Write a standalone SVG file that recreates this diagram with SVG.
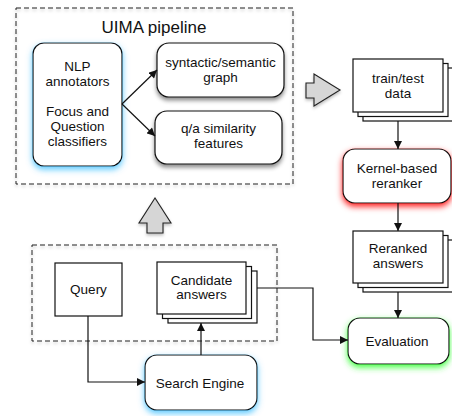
<svg xmlns="http://www.w3.org/2000/svg" width="452" height="416" viewBox="0 0 452 416">
<defs>
<style>
text{font-family:"Liberation Sans",Arial,sans-serif;font-size:13.5px;fill:#111;text-anchor:middle}
.box{fill:#fff;stroke:#111;stroke-width:1.2}
.dash{fill:none;stroke:#222;stroke-width:1;stroke-dasharray:5,3}
.conn{fill:none;stroke:#111;stroke-width:1.2}
.fat{fill:#d6d6d6;stroke:#222;stroke-width:1.1;stroke-linejoin:miter}
</style>
<filter id="sh" x="-20%" y="-20%" width="140%" height="150%"><feDropShadow dx="0" dy="3" stdDeviation="2" flood-color="#000" flood-opacity="0.45"/></filter>
<filter id="shl" x="-20%" y="-20%" width="140%" height="150%"><feDropShadow dx="0" dy="2" stdDeviation="1.5" flood-color="#000" flood-opacity="0.25"/></filter>
<filter id="gb" x="-20%" y="-20%" width="140%" height="150%"><feDropShadow dx="0" dy="3" stdDeviation="3" flood-color="#4cc4ff" flood-opacity="0.9"/></filter>
<filter id="gr" x="-20%" y="-20%" width="140%" height="150%"><feDropShadow dx="0" dy="3" stdDeviation="3" flood-color="#ff0000" flood-opacity="0.9"/></filter>
<filter id="gg" x="-20%" y="-20%" width="140%" height="150%"><feDropShadow dx="0" dy="3" stdDeviation="3" flood-color="#33ff33" flood-opacity="0.9"/></filter>
<marker id="ah" viewBox="0 0 10 10" refX="10" refY="5" markerWidth="9" markerHeight="8" markerUnits="userSpaceOnUse" orient="auto"><path d="M0,0 L10,5 L0,10 z" fill="#111"/></marker>
</defs>
<rect width="452" height="416" fill="#fff"/>

<g id="uima-pipeline">
<rect class="dash" x="16" y="8" width="277" height="176" filter="url(#shl)"/>
<text x="154" y="32.5" style="font-size:17px">UIMA pipeline</text>
</g>

<g id="nlp-annotators">
<rect class="box" x="33" y="43" width="89" height="123" rx="11" filter="url(#gb)"/>
<text x="77.5" y="71">NLP</text>
<text x="77.5" y="86">annotators</text>
<text x="77.5" y="115.5">Focus and</text>
<text x="77.5" y="130.5">Question</text>
<text x="77.5" y="145.5">classifiers</text>
</g>

<g id="syntactic-graph">
<rect class="box" x="157" y="43" width="127" height="54" rx="12" filter="url(#sh)"/>
<text x="220.5" y="66.5">syntactic/semantic</text>
<text x="220.5" y="81.5">graph</text>
</g>

<g id="qa-similarity">
<rect class="box" x="155" y="111" width="127" height="53" rx="12" filter="url(#sh)"/>
<text x="218.5" y="133">q/a similarity</text>
<text x="218.5" y="148">features</text>
</g>

<g id="fat-arrow-right">
<path class="fat" d="M306,83 L314,83 L314,74 L340,90 L314,106 L314,98 L306,98 Z" filter="url(#shl)"/>
</g>

<g id="train-test-data">
<rect class="box" x="363" y="68" width="90" height="53"/>
<rect class="box" x="358" y="63.5" width="90" height="53"/>
<rect class="box" x="353" y="59" width="90" height="53"/>
<text x="398" y="83">train/test</text>
<text x="398" y="98">data</text>
</g>

<g id="kernel-reranker">
<rect class="box" x="343" y="149" width="108" height="54" rx="12" filter="url(#gr)"/>
<text x="397" y="173">Kernel-based</text>
<text x="397" y="188">reranker</text>
</g>

<g id="reranked-answers">
<rect class="box" x="363" y="240" width="90" height="52"/>
<rect class="box" x="358" y="235.5" width="90" height="52"/>
<rect class="box" x="353" y="231" width="90" height="52"/>
<text x="398" y="253">Reranked</text>
<text x="398" y="268">answers</text>
</g>

<g id="evaluation">
<rect class="box" x="348" y="318" width="101" height="46" rx="12" filter="url(#gg)"/>
<text x="397" y="346">Evaluation</text>
</g>

<g id="fat-arrow-up">
<path class="fat" d="M147,233 L147,223 L139,223 L155,198 L171,223 L163,223 L163,233 Z" filter="url(#shl)"/>
</g>

<g id="retrieval-group">
<rect class="dash" x="32" y="245" width="245" height="96" filter="url(#shl)"/>
</g>

<g id="query">
<rect class="box" x="55" y="263" width="67" height="53"/>
<text x="88.5" y="294">Query</text>
</g>

<g id="candidate-answers">
<rect class="box" x="168" y="271" width="89" height="52"/>
<rect class="box" x="162.5" y="266.5" width="89" height="52"/>
<rect class="box" x="157" y="262" width="89" height="52"/>
<text x="201.5" y="285">Candidate</text>
<text x="201.5" y="299">answers</text>
</g>

<g id="search-engine">
<rect class="box" x="145" y="355" width="112" height="55" rx="12" filter="url(#gb)"/>
<text x="200" y="388">Search Engine</text>
</g>

<g id="connectors">
<path class="conn" d="M122,104 L157,70" marker-end="url(#ah)"/>
<path class="conn" d="M122,104 L155,136" marker-end="url(#ah)"/>
<path class="conn" d="M398,121 L398,149" marker-end="url(#ah)"/>
<path class="conn" d="M398,203 L398,231" marker-end="url(#ah)"/>
<path class="conn" d="M398,292 L398,318" marker-end="url(#ah)"/>
<path class="conn" d="M257,288 L313,288 L313,340 L348,340" marker-end="url(#ah)"/>
<path class="conn" d="M88,316 L88,382 L145,382" marker-end="url(#ah)"/>
<path class="conn" d="M201,355 L201,323" marker-end="url(#ah)"/>
</g>
</svg>
